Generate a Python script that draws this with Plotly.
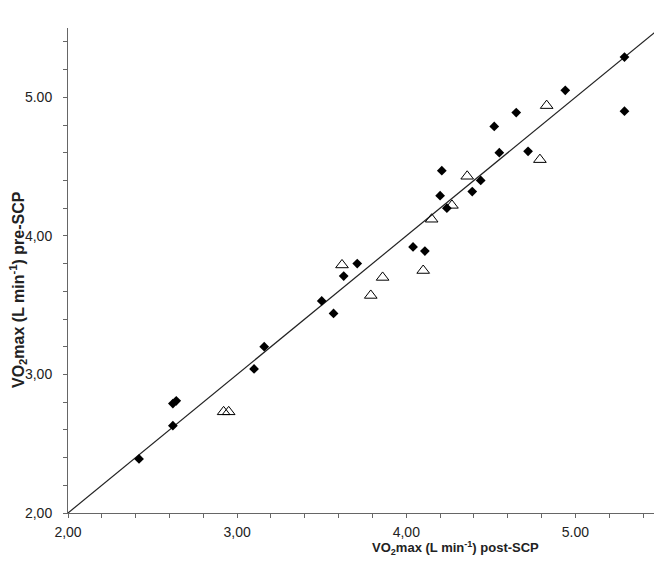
import plotly.graph_objects as go

# filled diamonds
diamond_x = [5.29, 4.94, 5.29, 4.65, 4.52, 4.55, 4.72, 4.21, 4.44, 4.20, 4.39, 4.24,
             4.04, 4.11, 3.71, 3.63, 3.50, 3.57, 3.16, 3.10, 2.64, 2.62, 2.62, 2.42]
diamond_y = [5.29, 5.05, 4.90, 4.89, 4.79, 4.60, 4.61, 4.47, 4.40, 4.29, 4.32, 4.20,
             3.92, 3.89, 3.80, 3.71, 3.53, 3.44, 3.20, 3.04, 2.81, 2.79, 2.63, 2.39]

# open triangles
triangle_x = [4.83, 4.79, 4.36, 4.27, 4.15, 4.10, 3.62, 3.86, 3.79, 2.92, 2.95]
triangle_y = [4.94, 4.55, 4.43, 4.22, 4.12, 3.75, 3.79, 3.70, 3.57, 2.73, 2.73]

# line of identity
line_x = [2.0, 5.5]
line_y = [2.0, 5.5]

tick_vals = [2, 3, 4, 5]
tick_text = ['2,00', '3,00', '4,00', '5.00']

fig = go.Figure()
fig.add_trace(go.Scatter(x=line_x, y=line_y, mode='lines',
                         line=dict(color='#222222', width=1.2), showlegend=False))
fig.add_trace(go.Scatter(x=diamond_x, y=diamond_y, mode='markers',
                         marker=dict(symbol='diamond', size=7.5, color='black'),
                         showlegend=False))
fig.add_trace(go.Scatter(x=triangle_x, y=triangle_y, mode='markers',
                         marker=dict(symbol='triangle-up-open', size=11, color='black',
                                     line=dict(width=1)),
                         showlegend=False))

axis_common = dict(
    range=[2, 5.5], tickvals=tick_vals, ticktext=tick_text,
    showgrid=False, zeroline=False,
    showline=True, linecolor='#666666', linewidth=1,
    ticks='outside', ticklen=4, tickcolor='#666666',
    tickfont=dict(family='Liberation Sans, Arial', size=14, color='#222222'),
    minor=dict(dtick=0.2, ticks='outside', ticklen=4, tickcolor='#666666'),
)

# page body has an 8px margin, so the figure is 8px smaller than the window
fig.update_layout(
    width=654, height=557,
    margin=dict(l=60, r=2, t=20, b=52),
    plot_bgcolor='white', paper_bgcolor='white',
    xaxis=dict(**axis_common, ticklabelstandoff=2),
    yaxis=dict(**axis_common, ticklabelstandoff=8),
    annotations=[
        dict(text='<b>VO<sub>2</sub>max (L min<sup>-1</sup>) post-SCP</b>',
             xref='paper', yref='paper', x=(455 - 68) / 592, y=-(548 - 513) / 485,
             xanchor='center', yanchor='middle', showarrow=False,
             font=dict(family='Liberation Sans, Arial', size=13, color='#222222')),
        dict(text='<b>VO<sub>2</sub>max (L min<sup>-1</sup>) pre-SCP</b>',
             xref='paper', yref='paper', x=-(68 - 18) / 592, y=(513 - 290) / 485,
             xanchor='center', yanchor='middle', showarrow=False, textangle=-90,
             font=dict(family='Liberation Sans, Arial', size=16, color='#222222')),
    ],
)

fig.write_html("out.html")
